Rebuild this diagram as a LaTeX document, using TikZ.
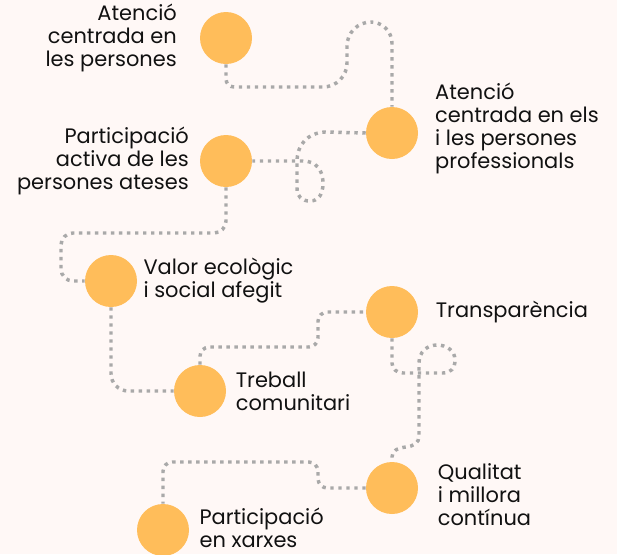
\documentclass[tikz,border=0pt]{standalone}
\usepackage{fontspec}
\setmainfont{Poppins}
\usepackage{tikz}
\usetikzlibrary{positioning}
\definecolor{bgpink}{HTML}{FFF8F6}
\definecolor{dotorange}{HTML}{FFBD5A}
\definecolor{trailgrey}{HTML}{A9A9A9}
\definecolor{textblack}{HTML}{111111}
\tikzset{dot/.style={circle,fill=dotorange,minimum size=39pt,inner sep=0pt},
         txt/.style={inner sep=0pt,text=textblack,font=\fontsize{15.7}{17.3}\selectfont}
}
\tikzstyle{trail} = [trailgrey,line width=2.6pt,dash pattern=on 2.6pt off 3.4pt]

\begin{document}
\begin{tikzpicture}[x=0.75pt,y=-0.75pt]

\fill[bgpink] (0,0) rectangle (617,554);
\clip (0,0) rectangle (617,554);

\node[dot] (c1) at (226,38) {};
\node[dot] (c2) at (392,133) {};
\node[dot] (c3) at (226,161) {};
\node[dot] (c4) at (111,281) {};
\node[dot] (c5) at (200,391) {};
\node[dot] (c6) at (392,312) {};
\node[dot] (c7) at (392,488) {};
\node[dot] (c8) at (163,530) {};

\node[txt,align=right,left=17pt of c1] (t1) {Atenció\\centrada en\\les persones};
\node[txt,align=left,right=12.5pt of c2,yshift=3.5pt] (t2) {Atenció\\centrada en els\\i les persones\\professionals};
\node[txt,align=right,left=8pt of c3] (t3) {Participació\\activa de les\\persones ateses};
\node[txt,align=left,right=4.5pt of c4] (t4) {Valor ecològic\\i social afegit};
\node[txt,align=left,right=7pt of c5] (t5) {Treball\\comunitari};
\node[txt,align=left,right=13pt of c6] (t6) {Transparència};
\node[txt,align=left,right=14.5pt of c7,yshift=-5pt] (t7) {Qualitat\\i millora\\contínua};
\node[txt,align=left,right=7.5pt of c8,yshift=1.5pt] (t8) {Participació\\en xarxes};

\draw[trail,rounded corners=6pt] (c1.south) |- (300,87) [rounded corners=18pt] -| (347,22) [rounded corners=16pt] -| (c2.north);
\draw[trail] (c2.west) -- (325,132) .. controls (308,133) and (297,144) .. (297,162) -- (297,188) .. controls (297,197) and (302,201) .. (310,201) .. controls (318,201) and (323,195) .. (323,183) .. controls (323,170) and (316,161) .. (303,161) -- (c3.east);
\draw[trail,rounded corners=9pt] (c3.south) |- (61,233) |- (c4.west);
\draw[trail,rounded corners=13pt] (c4.south) |- (c5.west);
\draw[trail,rounded corners=7pt] (c5.north) |- (318,347) |- (c6.west);
\draw[trail] (c6.south) -- (392,363) .. controls (392,369) and (397,373) .. (403,373) -- (443,373) .. controls (451,373) and (455,368) .. (455,360) .. controls (455,351) and (447,345) .. (437,345) .. controls (427,345) and (419,352) .. (419,363) -- (419,436) .. controls (419,443) and (414,446) .. (406,447) .. controls (397,448) and (392,451) .. (392,457) -- (c7.north);
\draw[trail,rounded corners=7pt] (c7.west) -| (318,462) -| (c8.north);

\end{tikzpicture}
\end{document}
